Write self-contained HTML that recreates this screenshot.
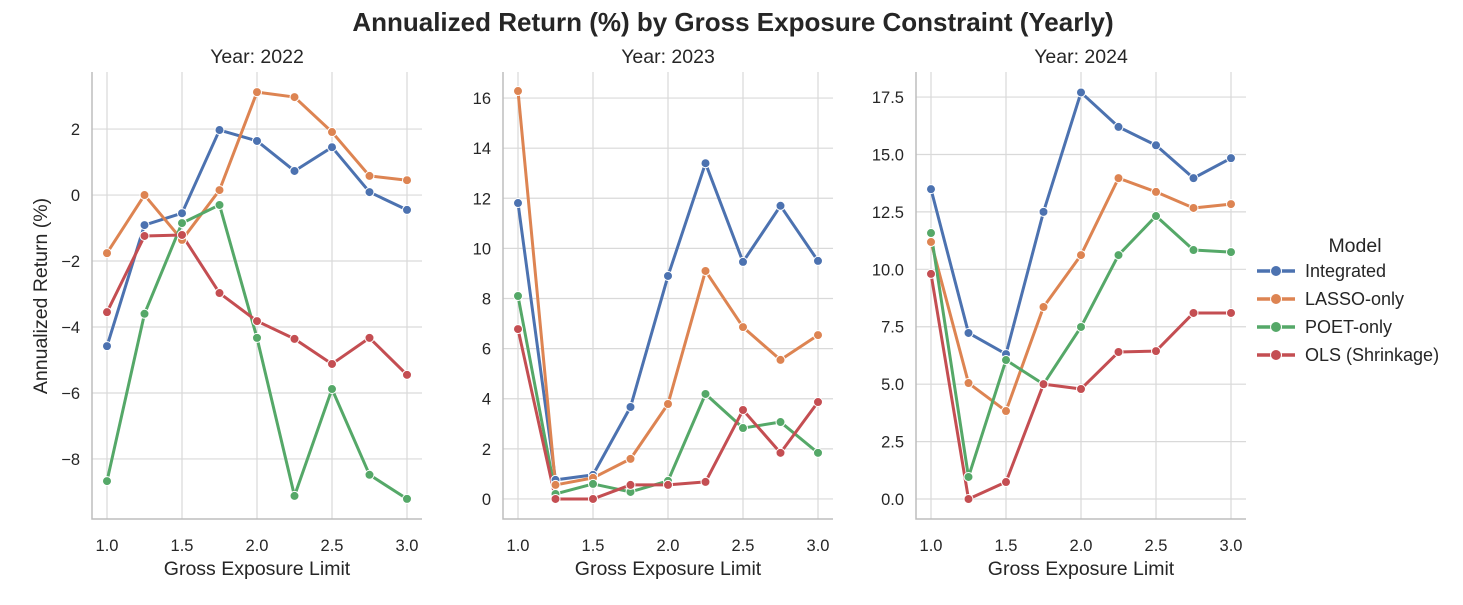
<!DOCTYPE html>
<html><head><meta charset="utf-8"><style>
body{margin:0;background:#fff;font-family:"Liberation Sans","DejaVu Sans",sans-serif;}
svg text{font-family:"Liberation Sans","DejaVu Sans",sans-serif;fill:#262626;}
</style></head><body>
<svg id="chart" width="1463" height="600" viewBox="0 0 1463 600" xmlns="http://www.w3.org/2000/svg">
<text x="733" y="31" text-anchor="middle" font-size="26" font-weight="bold">Annualized Return (%) by Gross Exposure Constraint (Yearly)</text>
</svg>
<script>
const xValues = [1.0,1.25,1.5,1.75,2.0,2.25,2.5,2.75,3.0];
const xTicks = [1.0,1.5,2.0,2.5,3.0];
const seriesNames = ["Integrated","LASSO-only","POET-only","OLS (Shrinkage)"];
const colors = ["#4c72b0","#dd8452","#55a868","#c44e52"];
const years = ["2022","2023","2024"];
const integrated2022 = [-4.58,-0.91,-0.55,1.97,1.64,0.73,1.45,0.09,-0.45];
const lasso2022 = [-1.76,0,-1.36,0.15,3.12,2.97,1.91,0.58,0.45];
const poet2022 = [-8.67,-3.6,-0.85,-0.3,-4.33,-9.12,-5.88,-8.48,-9.21];
const ols2022 = [-3.55,-1.24,-1.21,-2.97,-3.82,-4.36,-5.12,-4.33,-5.45];
const integrated2023 = [11.81,0.76,0.96,3.67,8.9,13.4,9.46,11.7,9.5];
const lasso2023 = [16.28,0.56,0.84,1.6,3.79,9.1,6.86,5.55,6.54];
const poet2023 = [8.1,0.2,0.6,0.28,0.72,4.19,2.83,3.07,1.84];
const ols2023 = [6.78,0,0,0.56,0.56,0.68,3.55,1.84,3.87];
const integrated2024 = [13.49,7.23,6.31,12.5,17.7,16.2,15.4,13.97,14.84];
const lasso2024 = [11.19,5.05,3.83,8.36,10.62,13.97,13.37,12.67,12.84];
const poet2024 = [11.58,0.96,6.05,5.0,7.49,10.62,12.32,10.84,10.75];
const ols2024 = [9.8,0,0.74,5.0,4.79,6.4,6.44,8.1,8.1];
const yTicks2022 = [-8,-6,-4,-2,0,2];
const yTicks2023 = [0,2,4,6,8,10,12,14,16];
const yTicks2024 = [0,2.5,5,7.5,10,12.5,15,17.5];
const yLabels2024 = ["0.0","2.5","5.0","7.5","10.0","12.5","15.0","17.5"];

const panels = [
 {left:92,right:422,ymin:-9.82,ymax:3.73,ticks:yTicks2022,labels:yTicks2022.map(v=>String(v).replace('-','\u2212')),data:[integrated2022,lasso2022,poet2022,ols2022]},
 {left:503,right:833,ymin:-0.8,ymax:17.04,ticks:yTicks2023,labels:yTicks2023.map(String),data:[integrated2023,lasso2023,poet2023,ols2023]},
 {left:916,right:1246,ymin:-0.87,ymax:18.59,ticks:yTicks2024,labels:yLabels2024,data:[integrated2024,lasso2024,poet2024,ols2024]}
];
const plotTop=72,plotBottom=519;
const svg=document.getElementById('chart');
const NS="http://www.w3.org/2000/svg";
function mk(tag,attrs,parent){const e=document.createElementNS(NS,tag);for(const k in attrs)e.setAttribute(k,attrs[k]);(parent||svg).appendChild(e);return e;}
panels.forEach((p,pi)=>{
 const g=mk('g',{});
 
 
 const xs=v=>p.left+(v-0.9)/(3.1-0.9)*(p.right-p.left);
 const ys=v=>plotBottom-(v-p.ymin)/(p.ymax-p.ymin)*(plotBottom-plotTop);
 xTicks.forEach(t=>{
  const l=mk('line',{x1:xs(t),x2:xs(t),y1:plotTop,y2:plotBottom,stroke:'#d9d9d9','stroke-width':1.2},g);
  
  
  const tx=mk('text',{x:xs(t),y:plotBottom+32,'text-anchor':'middle','font-size':16.5},g);
  
  
  tx.textContent=t.toFixed(1);
 });
 p.ticks.forEach((t,i)=>{
  const l=mk('line',{x1:p.left,x2:p.right,y1:ys(t),y2:ys(t),stroke:'#d9d9d9','stroke-width':1.2},g);
  
  
  const tx=mk('text',{x:p.left-12,y:ys(t)+6,'text-anchor':'end','font-size':16.5},g);
  
  
  tx.textContent=p.labels[i];
 });
 const ax=mk('path',{d:`M${p.left},${plotTop}V${plotBottom}H${p.right}`,fill:'none',stroke:'#bdbdbd','stroke-width':1.5},g);
 
 
 const st=mk('text',{x:(p.left+p.right)/2,y:63,'text-anchor':'middle','font-size':19.5},g);
 
 
 st.textContent='Year: '+years[pi];
 const xl=mk('text',{x:(p.left+p.right)/2,y:575,'text-anchor':'middle','font-size':19.5},g);
 
 
 xl.textContent='Gross Exposure Limit';
 p.data.forEach((arr,si)=>{
  const pl=mk('polyline',{points:arr.map((v,i)=>xs(xValues[i])+','+ys(v)).join(' '),fill:'none',stroke:colors[si],'stroke-width':3,'stroke-linejoin':'round'},g);
  
  
 });
 p.data.forEach((arr,si)=>{
  arr.forEach((v,i)=>{
   const c=mk('circle',{cx:xs(xValues[i]),cy:ys(v),r:4.5,fill:colors[si],stroke:'#fff','stroke-width':1},g);
   
   
  });
 });
});
const yt=mk('text',{x:47,y:296,'text-anchor':'middle','font-size':19.5,transform:'rotate(-90 47 296)'});


yt.textContent='Annualized Return (%)';
const lg=mk('g',{});


const lt=mk('text',{x:1355,y:252,'text-anchor':'middle','font-size':19.5},lg);


lt.textContent='Model';
seriesNames.forEach((n,i)=>{
 const y=271+i*28;
 const l=mk('line',{x1:1257,x2:1295,y1:y,y2:y,stroke:colors[i],'stroke-width':3.5},lg);
 
 
 const c=mk('circle',{cx:1276,cy:y,r:5.5,fill:colors[i],stroke:'#fff','stroke-width':1},lg);
 
 
 const t=mk('text',{x:1305,y:y+6,'font-size':18},lg);
 
 
 t.textContent=n;
});
</script>
</body></html>
